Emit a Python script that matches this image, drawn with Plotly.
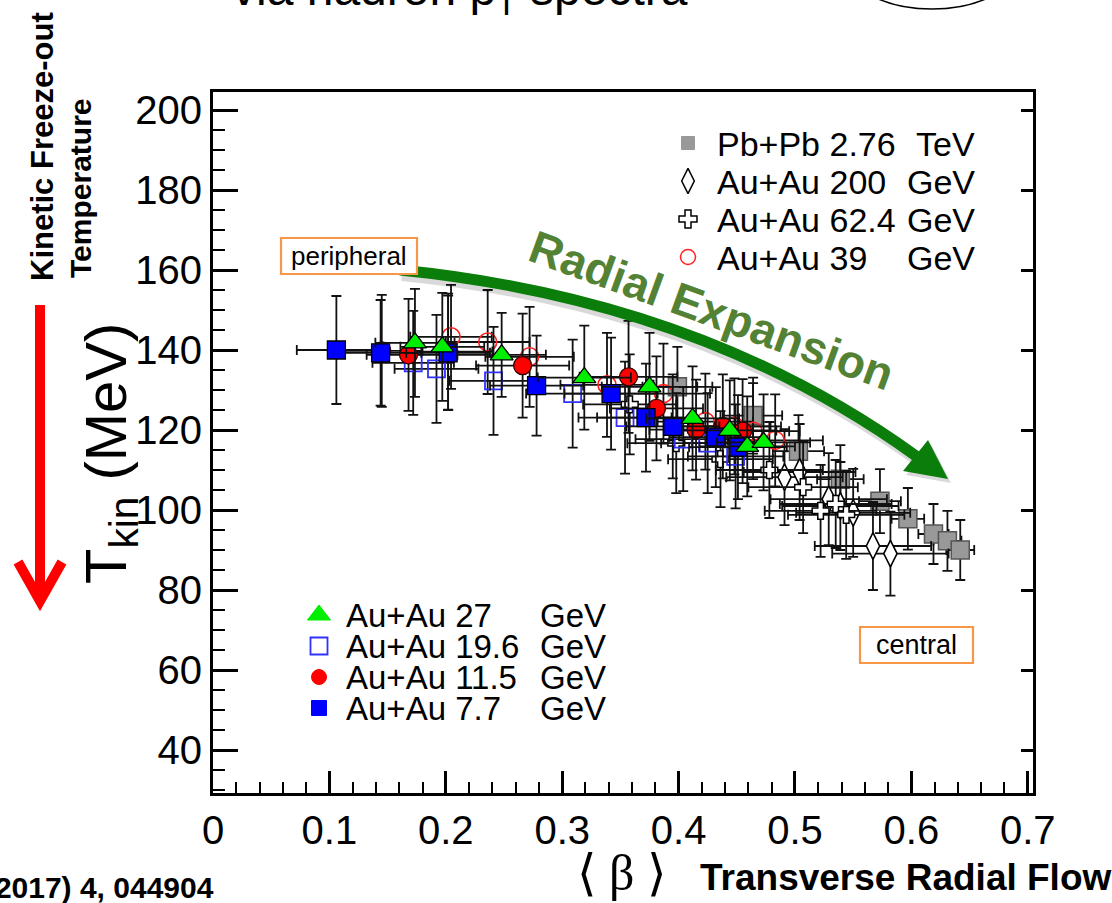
import plotly.graph_objects as go

# ---------------- data ----------------
pbpb_beta = [0.399, 0.464, 0.503, 0.539, 0.573, 0.597, 0.619, 0.631, 0.642]
pbpb_T = [130.8, 123.6, 114.7, 107.7, 102.2, 97.8, 94.0, 92.3, 90.0]
pbpb_beta_err = [0.030, 0.025, 0.022, 0.020, 0.018, 0.014, 0.013, 0.012, 0.012]
pbpb_T_err = [10.0, 9.5, 9.0, 8.5, 8.0, 7.7, 7.5, 7.5, 7.5]

au200_beta = [0.491, 0.504, 0.529, 0.539, 0.550, 0.567, 0.582]
au200_T = [108.2, 109.5, 102.7, 101.0, 99.3, 91.0, 89.1]
au200_beta_err = [0.050, 0.048, 0.050, 0.050, 0.049, 0.050, 0.050]
au200_T_err = [12.0, 12.0, 11.5, 11.0, 11.0, 11.0, 10.5]

au62_beta = [0.358, 0.398, 0.436, 0.478, 0.507, 0.522, 0.535, 0.544]
au62_T = [126.4, 116.7, 112.7, 110.0, 105.7, 99.8, 101.5, 98.8]
au62_beta_err = [0.040, 0.042, 0.045, 0.046, 0.047, 0.048, 0.048, 0.050]
au62_T_err = [12.5, 12.5, 12.0, 12.0, 11.5, 11.5, 11.0, 11.0]

au39_beta = [0.2045, 0.236, 0.272, 0.3385, 0.387, 0.423, 0.448, 0.464, 0.483]
au39_T = [143.3, 142.0, 138.3, 131.3, 129.1, 122.1, 120.9, 119.7, 117.4]
au39_beta_err = [0.035, 0.036, 0.038, 0.040, 0.040, 0.041, 0.040, 0.040, 0.041]
au39_T_err = [13.0, 13.0, 12.5, 13.0, 12.5, 12.0, 12.0, 12.0, 11.5]

au27_beta = [0.1735, 0.197, 0.248, 0.319, 0.375, 0.412, 0.444, 0.459, 0.473]
au27_T = [141.8, 140.8, 138.8, 133.1, 130.8, 122.9, 119.9, 115.9, 116.9]
au27_beta_err = [0.034, 0.036, 0.038, 0.040, 0.041, 0.040, 0.040, 0.041, 0.040]
au27_T_err = [13.5, 13.5, 10.5, 13.0, 13.5, 13.0, 12.5, 12.5, 12.0]

au19_beta = [0.172, 0.192, 0.241, 0.309, 0.354, 0.404, 0.425, 0.449]
au19_T = [136.8, 135.3, 132.3, 129.1, 123.1, 117.7, 116.7, 113.4]
au19_beta_err = [0.035, 0.036, 0.038, 0.040, 0.040, 0.041, 0.040, 0.041]
au19_T_err = [13.0, 13.5, 13.5, 13.5, 14.0, 13.0, 12.5, 13.0]

au11_beta = [0.145, 0.168, 0.202, 0.266, 0.357, 0.381, 0.415, 0.438, 0.455]
au11_T = [139.8, 138.8, 139.6, 136.1, 133.3, 125.4, 120.1, 120.9, 119.7]
au11_beta_err = [0.035, 0.036, 0.038, 0.040, 0.042, 0.040, 0.040, 0.041, 0.040]
au11_T_err = [14.0, 14.0, 14.5, 13.0, 14.0, 13.0, 12.5, 13.0, 13.0]

au7_beta = [0.106, 0.144, 0.202, 0.278, 0.342, 0.372, 0.395, 0.432, 0.451]
au7_T = [140.0, 139.3, 139.3, 131.1, 129.1, 123.1, 120.9, 118.2, 115.7]
au7_beta_err = [0.034, 0.035, 0.036, 0.040, 0.040, 0.042, 0.040, 0.040, 0.042]
au7_T_err = [13.5, 13.2, 14.3, 12.5, 14.0, 13.5, 13.0, 12.5, 13.0]

top_systems = ["Pb+Pb", "Au+Au", "Au+Au", "Au+Au"]
top_energies = ["2.76", "200", "62.4", "39"]
top_units = ["TeV", "GeV", "GeV", "GeV"]
bot_systems = ["Au+Au", "Au+Au", "Au+Au", "Au+Au"]
bot_energies = ["27", "19.6", "11.5", "7.7"]
bot_units = ["GeV", "GeV", "GeV", "GeV"]

x_ticks = [0, 0.1, 0.2, 0.3, 0.4, 0.5, 0.6, 0.7]
y_ticks = [40, 60, 80, 100, 120, 140, 160, 180, 200]

# ---------------- layout geometry ----------------
W, H = 1112, 903
L, R, T, B = 213, 1033, 92, 793
X_RANGE = [0, 0.7045]
Y_RANGE = [29.25, 204.5]


def px(xp):
    return (xp - L) / (R - L)


def py(yp):
    return (B - yp) / (B - T)


FONT = "Liberation Sans, Arial, Helvetica, sans-serif"

fig = go.Figure()

# style per series (separate from data)
series = [
    (pbpb_beta, pbpb_T, pbpb_beta_err, pbpb_T_err,
     dict(symbol="square", size=18, color="#999999", line=dict(color="#555555", width=1.5))),
    (au200_beta, au200_T, au200_beta_err, au200_T_err,
     dict(symbol="diamond-tall", size=19, color="white", line=dict(color="black", width=1.6))),
    (au62_beta, au62_T, au62_beta_err, au62_T_err,
     dict(symbol="cross", size=14, color="white", line=dict(color="black", width=1.5))),
    (au39_beta, au39_T, au39_beta_err, au39_T_err,
     dict(symbol="circle-open", size=18, color="#ff2020", line=dict(color="#ff2020", width=1.6))),
    (au19_beta, au19_T, au19_beta_err, au19_T_err,
     dict(symbol="square-open", size=17, color="#3030ff", line=dict(color="#3030ff", width=1.8))),
    (au11_beta, au11_T, au11_beta_err, au11_T_err,
     dict(symbol="circle", size=18, color="#ff0000", line=dict(color="#330000", width=1.3))),
    (au7_beta, au7_T, au7_beta_err, au7_T_err,
     dict(symbol="square", size=18, color="#0000ff", line=dict(color="black", width=1.3))),
    (au27_beta, au27_T, au27_beta_err, au27_T_err,
     dict(symbol="triangle-up", size=20, color="#00ee00", line=dict(color="black", width=1.3))),
]

for bx, ty, bxe, tye, mk in series:
    fig.add_trace(go.Scatter(
        x=bx, y=ty, mode="markers", marker=mk,
        error_x=dict(type="data", array=bxe, color="#111111", thickness=1.8, width=5),
        error_y=dict(type="data", array=tye, color="#111111", thickness=1.8, width=5),
        showlegend=False, hoverinfo="x+y",
    ))

# ---------------- legends (markers on an overlay unit axis) ----------------
top_marker_styles = [
    dict(symbol="square", size=13, color="#999999", line=dict(color="#999999", width=1)),
    dict(symbol="diamond-tall-open", size=18, color="black", line=dict(color="black", width=1.5)),
    dict(symbol="cross-open", size=15, color="black", line=dict(color="black", width=1.5)),
    dict(symbol="circle-open", size=15, color="#ff2020", line=dict(color="#ff2020", width=1.5)),
]
bot_marker_styles = [
    dict(symbol="triangle-up", size=20, color="#00ee00", line=dict(color="#00ee00", width=1)),
    dict(symbol="square-open", size=17, color="#3030ff", line=dict(color="#3030ff", width=1.8)),
    dict(symbol="circle", size=15, color="#ff0000", line=dict(color="#ff0000", width=1)),
    dict(symbol="square", size=15, color="#0000ff", line=dict(color="#0000ff", width=1)),
]
top_rows = [143, 181, 219, 257]
bot_rows = [615, 646, 677, 708]
LEG_SIZE = 34
BOX_H = 29


def legend_text(xp, yp, text, anchor, size):
    fig.add_annotation(x=px(xp), y=py(yp), xref="paper", yref="paper",
                       text=text, showarrow=False, xanchor=anchor, yanchor="middle",
                       borderpad=0, height=BOX_H, valign="middle",
                       font=dict(family=FONT, size=size, color="black"))


for i, (s, e, u) in enumerate(zip(top_systems, top_energies, top_units)):
    fig.add_trace(go.Scatter(x=[px(688)], y=[py(top_rows[i])], xaxis="x2", yaxis="y2",
                             mode="markers", marker=top_marker_styles[i], cliponaxis=False,
                             showlegend=False, hoverinfo="skip"))
    legend_text(716, top_rows[i], f"{s} {e}", "left", LEG_SIZE)
    legend_text(976, top_rows[i], u, "right", LEG_SIZE)

for i, (s, e, u) in enumerate(zip(bot_systems, bot_energies, bot_units)):
    fig.add_trace(go.Scatter(x=[px(319)], y=[py(bot_rows[i])], xaxis="x2", yaxis="y2",
                             mode="markers", marker=bot_marker_styles[i], cliponaxis=False,
                             showlegend=False, hoverinfo="skip"))
    legend_text(345, bot_rows[i], f"{s} {e}", "left", LEG_SIZE - 1)
    legend_text(607, bot_rows[i], u, "right", LEG_SIZE - 1)

# invisible trace so the right-hand tick axis is drawn
fig.add_trace(go.Scatter(x=[0], y=[0], yaxis="y3", mode="markers",
                         marker=dict(size=0, opacity=0), showlegend=False, hoverinfo="skip"))

# ---------------- axes ----------------
TICK_FONT = dict(family=FONT, size=40, color="black")
fig.update_layout(
    width=W, height=H,
    paper_bgcolor="white", plot_bgcolor="white",
    margin=dict(l=L, r=W - R, t=T, b=H - B, autoexpand=False),
    showlegend=False,
    xaxis=dict(range=X_RANGE, tickvals=x_ticks, ticktext=[f"{v:g}" for v in x_ticks],
               showline=True, linecolor="black", linewidth=3, mirror=True,
               ticks="inside", ticklen=22, tickwidth=2.5, tickcolor="black",
               minor=dict(ticks="inside", ticklen=11, dtick=0.02, tick0=0, tickwidth=2,
                          tickcolor="black", showgrid=False),
               showgrid=False, zeroline=False, automargin=False, tickfont=TICK_FONT),
    yaxis=dict(range=Y_RANGE, tickvals=y_ticks,
               showline=True, linecolor="black", linewidth=3, mirror=True,
               ticks="inside", ticklen=25, tickwidth=2.5, tickcolor="black",
               minor=dict(ticks="inside", ticklen=12, dtick=5, tick0=0, tickwidth=2,
                          tickcolor="black", showgrid=False),
               showgrid=False, zeroline=False, automargin=False, tickfont=TICK_FONT),
    yaxis3=dict(range=Y_RANGE, overlaying="y", side="right", tickvals=y_ticks,
                ticks="inside", ticklen=12, tickwidth=2.5, tickcolor="black",
                showticklabels=False, showline=False, showgrid=False, zeroline=False),
    xaxis2=dict(range=[0, 1], overlaying="x", visible=False),
    yaxis2=dict(range=[0, 1], overlaying="y", visible=False),
)

# ---------------- decorations ----------------
GREEN = "#0a7d0a"
shapes = []
# red arrow on the left
shapes.append(dict(type="line", xref="paper", yref="paper",
                   x0=px(40), y0=py(305), x1=px(40), y1=py(598),
                   line=dict(color="#ff0000", width=10)))
shapes.append(dict(type="path", xref="paper", yref="paper",
                   path=f"M {px(18)},{py(562)} L {px(40)},{py(601)} L {px(62)},{py(562)}",
                   line=dict(color="#ff0000", width=10)))
# green curved arrow (shadow + body + head)
shapes.append(dict(type="path", xref="paper", yref="paper",
                   path=f"M {px(402)},{py(275)} Q {px(702)},{py(305)} {px(919)},{py(461)}",
                   line=dict(color="rgba(0,0,0,0.15)", width=12)))
shapes.append(dict(type="path", xref="paper", yref="paper",
                   path=f"M {px(400)},{py(270)} Q {px(700)},{py(300)} {px(916)},{py(456)}",
                   line=dict(color=GREEN, width=11)))
shapes.append(dict(type="path", xref="paper", yref="paper",
                   path=f"M {px(951)},{py(483)} L {px(906)},{py(475)} L {px(931)},{py(444)} Z",
                   fillcolor="rgba(0,0,0,0.15)", line=dict(width=0)))
shapes.append(dict(type="path", xref="paper", yref="paper",
                   path=f"M {px(948)},{py(479)} L {px(903)},{py(471)} L {px(928)},{py(440)} Z",
                   fillcolor=GREEN, line=dict(width=0)))
# peripheral / central boxes
shapes.append(dict(type="rect", xref="paper", yref="paper",
                   x0=px(281), x1=px(417), y0=py(274), y1=py(238),
                   line=dict(color="#F79646", width=2.2), fillcolor="white"))
shapes.append(dict(type="rect", xref="paper", yref="paper",
                   x0=px(860), x1=px(973), y0=py(663), y1=py(627),
                   line=dict(color="#F79646", width=2.2), fillcolor="white"))
# partially visible ellipse at top right
shapes.append(dict(type="circle", xref="paper", yref="paper",
                   x0=px(852), x1=px(1012), y0=py(-69), y1=py(9),
                   line=dict(color="black", width=1.6)))
fig.update_layout(shapes=shapes)

ann = [
    dict(x=px(349), y=py(256), text="peripheral", font=dict(family=FONT, size=26, color="black")),
    dict(x=px(916), y=py(645), text="central", font=dict(family=FONT, size=27, color="black")),
    dict(x=px(711), y=py(310), text="<b>Radial Expansion</b>", textangle=20,
         font=dict(family=FONT, size=46, color="#548235")),
    dict(x=px(110), y=py(454), text="T<sub>kin</sub> (MeV)", textangle=-90,
         font=dict(family=FONT, size=58, color="black")),
    dict(x=px(42), y=py(147), text="<b>Kinetic Freeze-out</b>", textangle=-90,
         font=dict(family=FONT, size=31, color="black")),
    dict(x=px(80), y=py(188), text="<b>Temperature</b>", textangle=-90,
         font=dict(family=FONT, size=30, color="black")),
    dict(x=px(621), y=py(873), text="\u27e8 \u03b2 \u27e9",
         font=dict(family="Liberation Serif, DejaVu Serif, serif", size=50, color="black")),
    dict(x=px(698), y=py(877), text="<b>Transverse Radial Flow</b>", xanchor="left",
         font=dict(family=FONT, size=37, color="black")),
    dict(x=px(216), y=py(887), text="<b>Phys.Rev.C 96 (2017) 4, 044904</b>", xanchor="right",
         font=dict(family=FONT, size=30, color="black")),
    dict(x=px(230), y=py(24), text="via hadron p<sub>T</sub> spectra", xanchor="left", yanchor="bottom",
         font=dict(family=FONT, size=48, color="black")),
]
for a in ann:
    a.setdefault("xanchor", "center")
    a.setdefault("yanchor", "middle")
    fig.add_annotation(xref="paper", yref="paper", showarrow=False, **a)

fig.write_html("out.html")
